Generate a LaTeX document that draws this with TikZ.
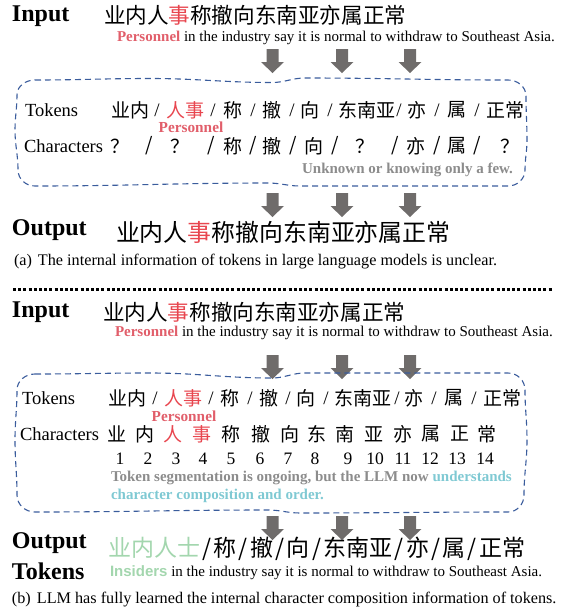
\documentclass[tikz,border=0pt]{standalone}
\usepackage{fontspec}
\setmainfont{Liberation Serif}
\newfontfamily\cjk{Noto Sans CJK SC}
\newfontfamily\sansf{Liberation Sans}
\definecolor{zred}{HTML}{E8464F}
\definecolor{pred}{HTML}{E15E6A}
\definecolor{graytxt}{HTML}{8C8C8C}
\definecolor{cyantxt}{HTML}{7FC9D3}
\definecolor{greentxt}{HTML}{A3D6AE}
\definecolor{boxblue}{HTML}{3A5C9C}
\definecolor{arrowgray}{HTML}{6F6C6B}
\tikzset{
  tx/.style={inner sep=0pt, outer sep=0pt},
  headtxt/.style={tx, anchor=west, font=\fontsize{24}{26}\selectfont\bfseries},
  zhbig/.style={tx, anchor=west, font=\fontsize{21.6}{24}\selectfont\cjk},
  entxt/.style={tx, anchor=west, font=\fontsize{15}{17}\selectfont},
  labtxt/.style={tx, anchor=west, font=\fontsize{18.5}{20}\selectfont},
  zhtxt/.style={tx, font=\fontsize{19}{21}\selectfont\cjk},
  sltxt/.style={tx, font=\fontsize{19}{21}\selectfont},
  perstxt/.style={tx, font=\fontsize{15.3}{17}\selectfont\bfseries, text=pred},
  notetxt/.style={tx, font=\fontsize{15}{17}\selectfont\bfseries, text=graytxt},
  numtxt/.style={tx, font=\fontsize{17.5}{19}\selectfont},
  captxt/.style={tx, anchor=west, font=\fontsize{16.2}{18}\selectfont},
  boxline/.style={draw=boxblue, line width=1.1pt, dash pattern=on 6pt off 4pt},
  downarrow/.pic={\fill[arrowgray] (-6,0) -- (6,0) -- (6,13) -- (11.5,13) -- (0,24) -- (-11.5,13) -- (-6,13) -- cycle;}
}
\begin{document}
\begin{tikzpicture}[x=1pt,y=-1pt]
\useasboundingbox (0,0) rectangle (575,614);
% ---------------- part (a) ----------------
\node[headtxt] (inA) at (12,16) {Input};
\node[zhbig] (zhA) at (104,15) {业内人{\color{zred}事}称撤向东南亚亦属正常};
\node[entxt] (enA) at (117,38) {{\bfseries\color{pred}Personnel} in the industry say it is normal to withdraw to Southeast Asia.};
\pic at (272.5,49) {downarrow};
\pic at (342,49) {downarrow};
\pic at (410,49) {downarrow};
% box a
\draw[boxline] (35,80) to[out=0,in=180] (150,78.5) to[out=0,in=180] (272,82.5) to[out=0,in=180] (305,78) to[out=0,in=180] (508,80)
  to[out=0,in=90] (526,96) to[out=-90,in=90] (527,140) to[out=-90,in=90] (525,170) to[out=-90,in=0] (508,186)
  to[out=180,in=0] (300,186) to[out=180,in=0] (268,183) to[out=180,in=0] (35,186)
  to[out=180,in=-90] (18,170) to[out=90,in=-90] (15,130) to[out=90,in=-90] (17,95) to[out=90,in=180] (35,80);
\node[labtxt] (tokA) at (25,110) {Tokens};
\foreach \x/\s [count=\i] in {130/业内,233/称,272/撤,310/向,367/东南亚,417/亦,457/属,505/正常}
  \node[zhtxt] (tkA\i) at (\x,110) {\s};
\node[zhtxt, text=zred] (tkArs) at (185,110) {人事};
\foreach \x [count=\i] in {157,213,253,292,330,399,437,477}
  \node[sltxt] (slA\i) at (\x,110) {/};
\node[perstxt] (perA) at (191,127) {Personnel};
\node[labtxt] (chA) at (24,146) {Characters};
\foreach \x/\s [count=\i] in {120/？,149/{/},180/？,211/{/},233/称,253/{/},272/撤,293/{/},314/向,335/{/},365/？,395/{/},416/亦,437/{/},457/属,477/{/},510/？}
  \node[zhtxt] (cA\i) at (\x,146) {\s};
\node[notetxt, anchor=east] (unk) at (513,170) {Unknown or knowing only a few.};
\pic at (272.5,193) {downarrow};
\pic at (342,193) {downarrow};
\pic at (410,193) {downarrow};
\node[headtxt] (outA) at (12,230) {Output};
\node[zhbig, font=\fontsize{23.9}{26}\selectfont\cjk] (zhoA) at (116,232) {业内人{\color{zred}事}称撤向东南亚亦属正常};
\node[captxt] (capA) at (14,262) {(a)\hspace{6pt}The internal information of tokens in large language models is unclear.};
% separator
\coordinate (sepL) at (13,289);
\coordinate (sepR) at (553,289);
\draw[line width=3pt, dash pattern=on 3pt off 2.2pt] (sepL) -- (sepR);
% ---------------- part (b) ----------------
\node[headtxt] (inB) at (12,312) {Input};
\node[zhbig] (zhB) at (103,312) {业内人{\color{zred}事}称撤向东南亚亦属正常};
\node[entxt] (enB) at (115,333) {{\bfseries\color{pred}Personnel} in the industry say it is normal to withdraw to Southeast Asia.};
\pic at (272.5,355) {downarrow};
\pic at (342,355) {downarrow};
\pic at (410,355) {downarrow};
% box b
\draw[boxline] (35,374) to[out=0,in=180] (150,373) to[out=0,in=180] (272,378) to[out=0,in=180] (305,373) to[out=0,in=180] (508,373)
  to[out=0,in=90] (525,390) to[out=-90,in=90] (527,440) to[out=-90,in=90] (524,495) to[out=-90,in=0] (508,512)
  to[out=180,in=0] (300,513) to[out=180,in=0] (268,510) to[out=180,in=0] (35,512)
  to[out=180,in=-90] (17,495) to[out=90,in=-90] (15,440) to[out=90,in=-90] (17,390) to[out=90,in=180] (35,374);
\node[labtxt] (tokB) at (22,398) {Tokens};
\foreach \x/\s [count=\i] in {127/业内,230/称,269/撤,306/向,363/东南亚,414/亦,454/属,502/正常}
  \node[zhtxt] (tkB\i) at (\x,398) {\s};
\node[zhtxt, text=zred] (tkBrs) at (183,398) {人事};
\foreach \x [count=\i] in {155,211,250,288,326,397,434,474}
  \node[sltxt] (slB\i) at (\x,398) {/};
\node[perstxt] (perB) at (184,416) {Personnel};
\node[labtxt] (chB) at (20,434) {Characters};
\foreach \x/\s [count=\i] in {117/业,145/内,231/称,261/撤,290/向,317/东,345/南,374/亚,403/亦,431/属,460/正,487/常}
  \node[zhtxt] (cB\i) at (\x,434) {\s};
\node[zhtxt, text=zred] (cBr) at (173,434) {人};
\node[zhtxt, text=zred] (cBs) at (202,434) {事};
\foreach \x [count=\i] in {120,148,176,203,231,260,288,315,348,375,403,430,457,485}
  \node[numtxt] (nB\i) at (\x,459) {\i};
\node[notetxt, anchor=west] (segB) at (111,478) {Token segmentation is ongoing, but the LLM now {\color{cyantxt}understands}};
\node[notetxt, anchor=west, text=cyantxt] (segB2) at (111,496) {character composition and order.};
\pic at (272.5,516) {downarrow};
\pic at (342,516) {downarrow};
\pic at (410,516) {downarrow};
\node[headtxt] (outB) at (12,543) {Output};
\node[headtxt] (outB2) at (12,571) {Tokens};
\node[zhbig, font=\fontsize{23}{26}\selectfont\cjk] (zhoB) at (108,549) {{\color{greentxt}业内人士}\hspace{2.3pt}/\hspace{2.3pt}称\hspace{2.3pt}/\hspace{2.3pt}撤\hspace{2.3pt}/\hspace{2.3pt}向\hspace{2.3pt}/\hspace{2.3pt}东南亚\hspace{2.3pt}/\hspace{2.3pt}亦\hspace{2.3pt}/\hspace{2.3pt}属\hspace{2.3pt}/\hspace{2.3pt}正常};
\node[entxt] (enoB) at (110,573) {{\sansf\bfseries\color{greentxt}Insiders} in the industry say it is normal to withdraw to Southeast Asia.};
\node[captxt] (capB) at (12,600) {(b)\hspace{6pt}LLM has fully learned the internal character composition information of tokens.};
\end{tikzpicture}
\end{document}
